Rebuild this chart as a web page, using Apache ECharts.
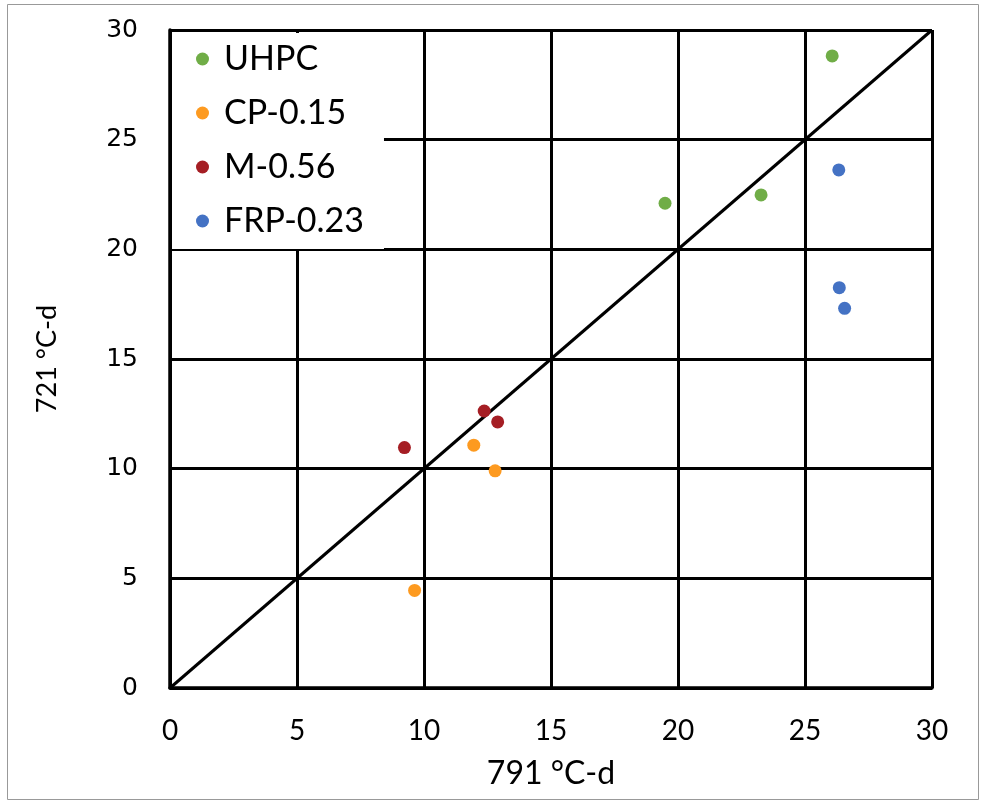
<!DOCTYPE html>
<html><head><meta charset="utf-8">
<script src="https://cdn.jsdelivr.net/npm/echarts@6/dist/echarts.min.js"></script>
<style>html,body{margin:0;padding:0;background:#fff}#c{width:985px;height:802px}</style>
</head><body><div id="c"></div>
<script>
const seriesNames = ['UHPC', 'CP-0.15', 'M-0.56', 'FRP-0.23'];
const seriesColors = ['#70AD47', '#FD9A20', '#A51E24', '#4472C4'];
const uhpc = [[19.49, 22.1], [23.27, 22.48], [26.07, 28.82]];
const cp015 = [[11.96, 11.07], [12.8, 9.9], [9.63, 4.45]];
const m056 = [[9.23, 10.96], [12.37, 12.63], [12.9, 12.13]];
const frp023 = [[26.33, 23.62], [26.35, 18.25], [26.56, 17.31]];
const equalityLine = [[0, 0], [30, 30]];
const xTitle = '791 °C-d';
const yTitle = '721 °C-d';
const axisMin = 0, axisMax = 30, axisStep = 5;

const chart = echarts.init(document.getElementById('c'), null, {renderer: 'canvas'});
const dataSets = [uhpc, cp015, m056, frp023];
const axisCommon = {
  type: 'value', min: axisMin, max: axisMax, interval: axisStep,
  axisLine: {show: true, lineStyle: {color: '#000', width: 3.5}},
  axisTick: {show: false},
  splitLine: {show: true, lineStyle: {color: '#000', width: 3}},
  nameLocation: 'middle'
};
chart.setOption({
  animation: false,
  backgroundColor: '#fff',
  graphic: [{type: 'rect', shape: {x: 7.5, y: 4.5, width: 971, height: 795}, style: {fill: 'none', stroke: '#999', lineWidth: 1}, z: 100}],
  grid: {left: 170, right: 53, top: 30, bottom: 114},
  xAxis: Object.assign({}, axisCommon, {
    name: xTitle, nameGap: 70,
    nameTextStyle: {color: '#000', fontSize: 32, fontFamily: 'Lato'},
    axisLabel: {color: '#000', fontSize: 28, fontFamily: 'Lato', margin: 29}
  }),
  yAxis: Object.assign({}, axisCommon, {
    name: yTitle, nameGap: 109,
    nameTextStyle: {color: '#000', fontSize: 27, fontFamily: 'Lato'},
    axisLabel: {color: '#000', fontSize: 25, fontFamily: 'DejaVu Sans', margin: 32}
  }),
  legend: {
    data: seriesNames, orient: 'vertical', left: 172, top: 33,
    backgroundColor: '#fff', padding: [9, 20, 11, 24],
    itemGap: 20, itemWidth: 13, itemHeight: 13, icon: 'circle',
    textStyle: {color: '#000', fontSize: 34, fontFamily: 'Lato', padding: [0, 0, 0, 10]}
  },
  series: dataSets.map((d, i) => ({
    name: seriesNames[i], type: 'scatter', data: d, symbolSize: 13,
    itemStyle: {color: seriesColors[i], opacity: 1}, z: 5
  })).concat([{
    name: 'line', type: 'line', data: equalityLine, showSymbol: false, symbol: 'none',
    lineStyle: {color: '#000', width: 3}, z: 3, silent: true
  }])
});
</script></body></html>
